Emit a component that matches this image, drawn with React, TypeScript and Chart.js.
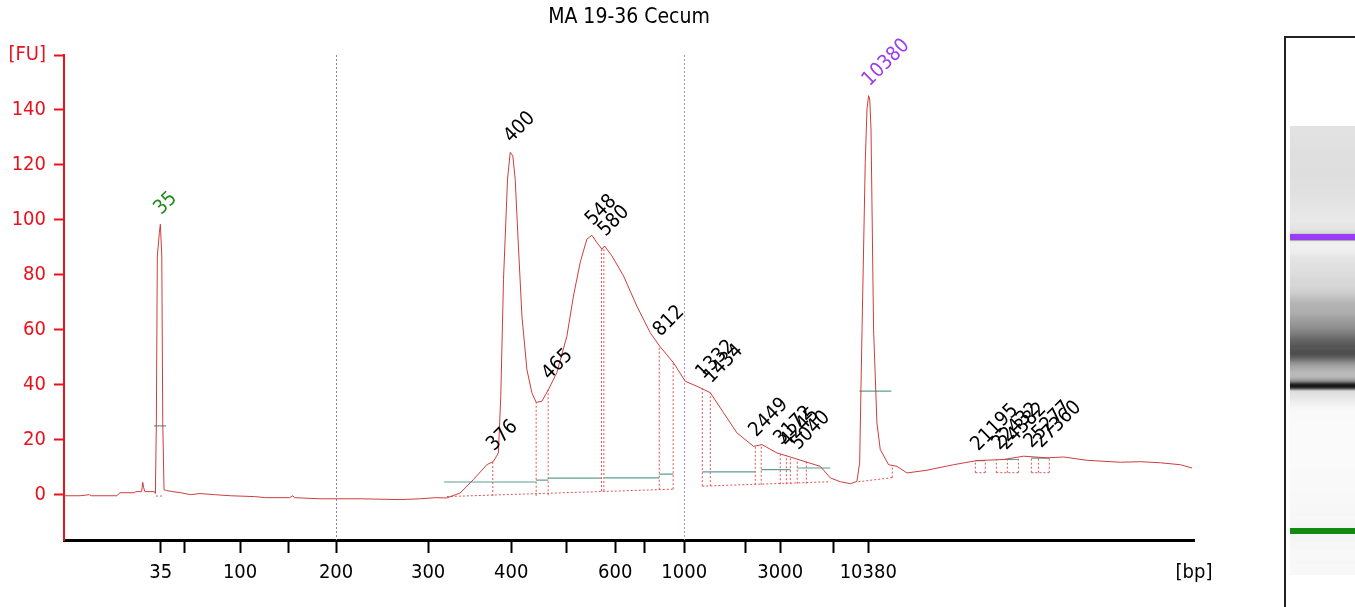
import { useEffect, useRef } from "react";
import { Chart, registerables } from "chart.js";

Chart.register(...registerables);

const FONT = "'DejaVu Sans Condensed', 'Liberation Sans', sans-serif";
const RED = "#e8121a";
const TRACE = "#d03c3c";
const TEAL = "#5f9f94";

const title = "MA 19-36 Cecum";

// ladder sizes (bp) and their migration times
const ladderBp = [35, 50, 100, 150, 200, 300, 400, 500, 600, 700, 1000, 2000, 3000, 7000, 10380];
const ladderTime = [46.04, 47.5, 51.0, 54.0, 57.0, 62.75, 67.94, 71.38, 74.44, 76.25, 78.75, 82.6, 84.75, 88.1, 90.25];
const tickLabels = ["35", "", "100", "", "200", "300", "400", "", "600", "", "1000", "", "3000", "", "10380", "[bp]"];
const timeMin = 40;
const timeMax = 110.6;
const yTicks = [0, 20, 40, 60, 80, 100, 120, 140, 160];
const regionBp = [200, 1000];
const regionColor = ["#7f7fd6", "#c48aa8"];

// electropherogram trace
const traceTime = [
  40.0, 41.0, 41.6, 41.7, 43.3, 43.5, 44.4, 44.5, 44.85, 44.92, 44.98, 45.05, 45.65, 45.71, 45.77, 45.83,
  45.96, 46.02, 46.11, 46.17, 46.25, 46.4, 46.8, 47.3, 47.9, 48.5, 49.4, 50.4, 51.9, 52.6, 54.1, 54.3,
  54.4, 56.0, 58.5, 61.0, 62.25, 63.2, 63.92, 64.75, 65.58, 66.42, 66.83, 67.14, 67.29, 67.46, 67.71,
  67.88, 68.04, 68.19, 68.39, 68.61, 68.92, 69.23, 69.5, 69.86, 70.27, 70.79, 71.42, 71.83, 72.25, 72.67,
  72.98, 73.29, 73.61, 73.77, 74.23, 74.96, 75.79, 76.63, 77.21, 78.08, 78.81, 79.75, 80.38, 81.21, 82.04,
  83.08, 83.61, 84.54, 85.38, 86.42, 87.25, 87.88, 88.5, 89.13, 89.54, 89.71, 89.86, 90.06, 90.17, 90.27,
  90.34, 90.42, 90.58, 90.79, 91.0, 91.52, 92.04, 92.67, 93.92, 95.58, 97.04, 98.71, 99.96, 101.42,
  102.46, 103.92, 106.0, 107.25, 108.5, 109.75, 110.48,
];
const traceFU = [
  -0.4, -0.4, 0.0, -0.4, -0.4, 0.7, 0.7, 1.1, 1.1, 4.5, 2.5, 1.1, 1.1, 0.4, 26.2, 86.8,
  95.5, 98.4, 86.8, 26.2, 1.8, 1.5, 1.1, 0.7, 0.0, 0.4, 0.0, -0.4, -0.7, -1.1, -1.1, -0.4,
  -1.1, -1.5, -1.5, -1.8, -1.5, -1.1, -1.2, 0.6, 5.5, 10.9, 12.1, 15.2, 35.8, 78.4, 114.8,
  124.6, 123.3, 114.8, 90.5, 65.0, 45.6, 37.1, 33.6, 34.0, 38.3, 44.4, 57.7, 72.3, 84.5, 93.0,
  94.4, 91.8, 89.3, 90.5, 86.9, 79.6, 68.6, 58.9, 54.1, 48.0, 41.3, 38.9, 37.1, 29.8, 22.5,
  17.6, 18.2, 15.2, 13.7, 11.8, 10.3, 6.1, 4.7, 4.0, 4.8, 11.6, 60.2, 120.9, 140.4, 145.2,
  144.0, 133.1, 60.2, 26.1, 16.4, 10.9, 10.3, 7.9, 8.9, 10.9, 12.4, 12.8, 14.0, 13.4,
  13.7, 12.5, 11.8, 12.0, 11.6, 10.9, 9.7,
];

// called peaks
const peakLabel = ["35", "376", "400", "465", "548", "580", "812", "1332", "1434", "2449", "3172", "4245", "5040", "10380", "21195", "22432", "24382", "25277", "27360"];
const peakTime = [46.02, 66.81, 67.88, 70.25, 72.98, 73.77, 77.21, 79.88, 80.38, 83.19, 84.75, 85.13, 85.81, 90.27, 97.06, 98.38, 98.81, 100.38, 101.0];
const peakFU = [98.4, 12.4, 124.6, 38.3, 94.4, 90.5, 54.1, 38.6, 37.1, 17.5, 14.6, 13.9, 12.8, 145.2, 12.4, 12.8, 12.8, 13.5, 13.5];
const peakColor = ["#1f8a1f", "", "", "", "", "", "", "", "", "", "", "", "", "#9a3cf0", "", "", "", "", ""];

// peak boundaries (dotted verticals)
const boundTime = [66.79, 69.5, 70.25, 73.58, 73.73, 77.19, 78.06, 79.88, 80.38, 83.19, 83.56, 84.75, 85.13, 85.38, 85.81, 86.38, 91.75, 96.94, 97.56, 98.25, 98.94, 99.63, 100.44, 100.88, 101.56];
const boundTop = [12.4, 33.6, 38.3, 89.3, 90.1, 53.9, 48.0, 38.6, 37.1, 17.5, 18.2, 14.6, 14.2, 13.9, 12.8, 12.0, 10.6, 12.4, 12.4, 12.8, 12.8, 13.1, 13.4, 13.4, 13.4];
const boundBase = [-0.5, -0.4, -0.2, 1.3, 1.3, 1.8, 2.0, 3.1, 3.1, 3.6, 3.6, 3.8, 3.8, 3.8, 4.0, 4.0, 6.2, 8.0, 8.0, 8.0, 8.0, 8.0, 8.0, 8.0, 8.0];

// dotted baselines
const baseT0 = [45.75, 63.92, 79.88, 89.63, 96.94, 98.25, 100.44];
const baseFU0 = [-0.5, -0.7, 3.1, 4.7, 8.0, 8.0, 8.0];
const baseT1 = [46.25, 78.06, 87.88, 91.75, 97.56, 99.63, 101.56];
const baseFU1 = [-0.5, 2.0, 4.7, 6.2, 8.0, 8.0, 8.0];

// teal width markers
const tealT0 = [45.63, 63.75, 69.5, 70.25, 73.75, 77.19, 79.88, 83.56, 84.75, 85.81, 89.69, 96.94, 98.5, 100.44];
const tealT1 = [46.38, 69.5, 70.25, 73.56, 77.19, 78.06, 83.19, 84.75, 85.38, 87.88, 91.69, 97.56, 99.63, 101.56];
const tealFU = [25.0, 4.6, 5.3, 6.0, 6.1, 7.5, 8.3, 9.1, 9.1, 9.7, 37.7, 12.4, 12.8, 13.3];

function fuAt(t: number) {
  if (t <= traceTime[0]) return traceFU[0];
  for (let i = 1; i < traceTime.length; i++) {
    if (t <= traceTime[i]) {
      const f = (t - traceTime[i - 1]) / (traceTime[i] - traceTime[i - 1]);
      return traceFU[i - 1] + f * (traceFU[i] - traceFU[i - 1]);
    }
  }
  return traceFU[traceFU.length - 1];
}

function segments(t0: number[], y0: number[], t1: number[], y1: number[]) {
  const out: { x: number; y: number | null }[] = [];
  t0.forEach((t, i) => {
    out.push({ x: t, y: y0[i] }, { x: t1[i], y: y1[i] }, { x: t1[i], y: null });
  });
  return out;
}

const overlay = {
  id: "overlay",
  beforeDatasetsDraw(chart: any) {
    const { ctx, chartArea: a, scales } = chart;
    ctx.save();
    ctx.lineWidth = 1;
    ctx.setLineDash([2, 2]);
    regionBp.forEach((bp, i) => {
      const t = ladderTime[ladderBp.indexOf(bp)];
      const px = Math.round(scales.x.getPixelForValue(t)) + 0.5;
      ctx.strokeStyle = regionColor[i];
      ctx.beginPath();
      ctx.moveTo(px, a.top);
      ctx.lineTo(px, a.bottom);
      ctx.stroke();
    });
    ctx.restore();
  },
  afterDraw(chart: any) {
    const { ctx, chartArea: a, scales } = chart;
    ctx.save();
    // title
    ctx.fillStyle = "#000";
    ctx.font = `21px ${FONT}`;
    ctx.textAlign = "center";
    ctx.textBaseline = "middle";
    ctx.fillText(title, (a.left + a.right) / 2, 18);

    // peak labels
    ctx.font = `20px ${FONT}`;
    ctx.textAlign = "left";
    ctx.textBaseline = "alphabetic";
    peakLabel.forEach((lab, i) => {
      const px = scales.x.getPixelForValue(peakTime[i]);
      const py = scales.y.getPixelForValue(peakFU[i]);
      ctx.save();
      ctx.translate(px + 1, py - 9);
      ctx.rotate(-Math.PI / 4);
      ctx.fillStyle = peakColor[i] || "#000";
      ctx.fillText(lab, 0, 0);
      ctx.restore();
    });

    // gel lane
    const gelLeft = 1290;
    const gelRight = 1355;
    const gelTop = 126;
    const gelBottom = 575;
    const yLow = 531;
    const yHigh = 237;
    const tLow = ladderTime[0];
    const tHigh = ladderTime[ladderTime.length - 1];
    for (let py = gelTop; py < gelBottom; py++) {
      const t = tLow + ((yLow - py) * (tHigh - tLow)) / (yLow - yHigh);
      const g = Math.max(0, Math.min(252, Math.round(247 - 1.8 * fuAt(t))));
      ctx.fillStyle = `rgb(${g},${g},${g})`;
      ctx.fillRect(gelLeft, py, gelRight - gelLeft, 1);
    }
    ctx.fillStyle = "#9b3cf5";
    ctx.fillRect(gelLeft, yHigh - 3, gelRight - gelLeft, 6);
    ctx.fillStyle = "#128a12";
    ctx.fillRect(gelLeft, yLow - 3, gelRight - gelLeft, 6);
    ctx.strokeStyle = "#222";
    ctx.lineWidth = 2;
    ctx.beginPath();
    ctx.moveTo(1285, 607);
    ctx.lineTo(1285, 37);
    ctx.lineTo(1355, 37);
    ctx.stroke();
    ctx.restore();
  },
};

export default function App() {
  const ref = useRef<HTMLCanvasElement | null>(null);

  useEffect(() => {
    if (!ref.current) return;
    const tickTime = [...ladderTime, timeMax];
    const chart = new Chart(ref.current, {
      type: "line",
      data: {
        datasets: [
          {
            data: traceTime.map((t, i) => ({ x: t, y: traceFU[i] })),
            borderColor: TRACE,
            borderWidth: 1,
            pointRadius: 0,
            tension: 0,
          },
          {
            data: segments(tealT0, tealFU, tealT1, tealFU),
            borderColor: TEAL,
            borderWidth: 1.2,
            pointRadius: 0,
          },
          {
            data: segments(boundTime, boundBase, boundTime, boundTop),
            borderColor: "#e05252",
            borderWidth: 1,
            borderDash: [2, 2],
            pointRadius: 0,
          },
          {
            data: segments(baseT0, baseFU0, baseT1, baseFU1),
            borderColor: "#e05252",
            borderWidth: 1,
            borderDash: [2, 2],
            pointRadius: 0,
          },
        ],
      },
      options: {
        animation: false,
        responsive: true,
        maintainAspectRatio: false,
        parsing: false,
        layout: { padding: { top: 55, right: 161, bottom: 0, left: 0 } },
        plugins: {
          legend: { display: false },
          tooltip: { enabled: false },
        },
        scales: {
          x: {
            type: "linear",
            min: timeMin,
            max: timeMax,
            afterBuildTicks: (s: any) => {
              s.ticks = tickTime.map((v) => ({ value: v }));
            },
            afterFit: (s: any) => {
              s.height = 67;
            },
            ticks: {
              autoSkip: false,
              maxRotation: 0,
              color: "#000",
              padding: 8,
              font: { family: FONT, size: 20 },
              callback: (_v: any, i: number) => tickLabels[i],
            },
            grid: {
              drawOnChartArea: false,
              tickLength: 13,
              tickWidth: 2,
              tickColor: (c: any) => (c.index === tickTime.length - 1 ? "rgba(0,0,0,0)" : "#000"),
            },
            border: { color: "#000", width: 3 },
          },
          y: {
            min: -16.5,
            max: 160,
            afterBuildTicks: (s: any) => {
              s.ticks = yTicks.map((v) => ({ value: v }));
            },
            afterFit: (s: any) => {
              s.width = 64;
            },
            ticks: {
              color: RED,
              padding: 8,
              font: { family: FONT, size: 20 },
              callback: (v: any) => (v === 160 ? "[FU]" : String(v)),
            },
            grid: { drawOnChartArea: false, tickLength: 10, tickWidth: 2, tickColor: RED },
            border: { color: RED, width: 2 },
          },
        },
      },
      plugins: [overlay],
    });
    return () => {
      chart.destroy();
    };
  }, []);

  return (
    <div style={{ position: "absolute", left: 0, top: 0, width: 1355, height: 607, background: "#fff" }}>
      <canvas ref={ref} />
    </div>
  );
}
